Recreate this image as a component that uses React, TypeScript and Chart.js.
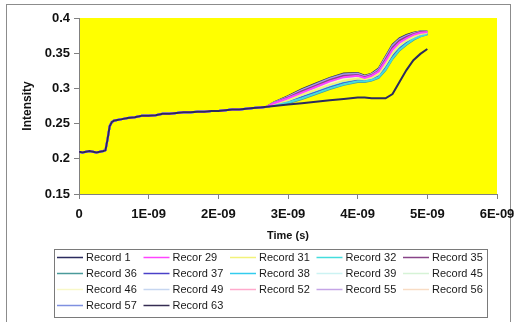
import React, { useEffect, useRef } from "react";
import { Chart, registerables } from "chart.js";

Chart.register(...registerables);

// Time in units of 1E-09 s
const baseTimes = [0, 0.05, 0.1, 0.15, 0.2, 0.25, 0.3, 0.35, 0.38, 0.41, 0.44, 0.47, 0.5, 0.55, 0.6, 0.7, 0.8, 0.9, 1.0, 1.1, 1.2, 1.3, 1.4, 1.5, 1.6, 1.7, 1.8, 1.9, 2.0, 2.1, 2.2, 2.3, 2.4, 2.5, 2.6, 2.7];
const baseIntensity = [0.210, 0.209, 0.210, 0.211, 0.210, 0.209, 0.210, 0.211, 0.212, 0.228, 0.246, 0.252, 0.254, 0.255, 0.256, 0.258, 0.259, 0.261, 0.261, 0.262, 0.264, 0.264, 0.265, 0.266, 0.266, 0.267, 0.267, 0.268, 0.268, 0.269, 0.270, 0.270, 0.271, 0.272, 0.273, 0.274];
const tailTimes = [2.8, 3.0, 3.2, 3.4, 3.6, 3.8, 4.0, 4.1, 4.2, 4.3, 4.4, 4.5, 4.6, 4.7, 4.8, 4.9, 5.0];

const record1 = [0.275, 0.277, 0.279, 0.281, 0.283, 0.285, 0.287, 0.287, 0.286, 0.286, 0.286, 0.292, 0.309, 0.326, 0.340, 0.349, 0.356];
const record29 = [0.279, 0.286, 0.294, 0.302, 0.310, 0.316, 0.318, 0.315, 0.318, 0.324, 0.339, 0.355, 0.365, 0.371, 0.376, 0.379, 0.380];
const record31 = [0.278, 0.283, 0.291, 0.298, 0.305, 0.311, 0.314, 0.313, 0.315, 0.320, 0.334, 0.350, 0.361, 0.368, 0.373, 0.377, 0.379];
const record32 = [0.276, 0.280, 0.286, 0.293, 0.300, 0.306, 0.310, 0.310, 0.312, 0.316, 0.327, 0.343, 0.355, 0.363, 0.370, 0.374, 0.377];
const record35 = [0.279, 0.287, 0.296, 0.304, 0.312, 0.318, 0.319, 0.316, 0.319, 0.325, 0.341, 0.358, 0.368, 0.373, 0.377, 0.380, 0.380];
const record36 = [0.276, 0.279, 0.285, 0.292, 0.299, 0.305, 0.309, 0.309, 0.311, 0.315, 0.326, 0.342, 0.354, 0.362, 0.369, 0.374, 0.377];
const record37 = [0.277, 0.280, 0.287, 0.294, 0.301, 0.307, 0.311, 0.310, 0.312, 0.317, 0.328, 0.345, 0.356, 0.364, 0.370, 0.375, 0.378];
const record38 = [0.277, 0.281, 0.288, 0.295, 0.302, 0.308, 0.312, 0.311, 0.313, 0.318, 0.330, 0.346, 0.357, 0.365, 0.371, 0.375, 0.378];
const record39 = [0.277, 0.282, 0.289, 0.296, 0.303, 0.309, 0.313, 0.311, 0.314, 0.319, 0.331, 0.347, 0.359, 0.366, 0.372, 0.376, 0.378];
const record45 = [0.277, 0.282, 0.290, 0.297, 0.304, 0.310, 0.313, 0.312, 0.314, 0.319, 0.332, 0.349, 0.360, 0.367, 0.372, 0.376, 0.378];
const record46 = [0.278, 0.284, 0.292, 0.299, 0.307, 0.313, 0.315, 0.313, 0.316, 0.321, 0.335, 0.351, 0.362, 0.369, 0.374, 0.377, 0.379];
const record49 = [0.278, 0.285, 0.293, 0.301, 0.309, 0.315, 0.317, 0.314, 0.317, 0.323, 0.337, 0.354, 0.364, 0.370, 0.375, 0.378, 0.379];
const record52 = [0.279, 0.286, 0.295, 0.303, 0.311, 0.317, 0.318, 0.316, 0.318, 0.324, 0.340, 0.357, 0.366, 0.372, 0.376, 0.379, 0.380];
const record55 = [0.279, 0.288, 0.297, 0.305, 0.313, 0.319, 0.320, 0.317, 0.320, 0.326, 0.343, 0.359, 0.369, 0.374, 0.378, 0.380, 0.380];
const record56 = [0.278, 0.284, 0.292, 0.300, 0.307, 0.313, 0.316, 0.314, 0.316, 0.322, 0.336, 0.353, 0.363, 0.369, 0.374, 0.378, 0.379];
const record57 = [0.280, 0.288, 0.298, 0.306, 0.314, 0.320, 0.321, 0.317, 0.320, 0.327, 0.344, 0.361, 0.370, 0.375, 0.378, 0.381, 0.381];
const record63 = [0.280, 0.289, 0.299, 0.307, 0.315, 0.321, 0.322, 0.318, 0.321, 0.328, 0.345, 0.362, 0.371, 0.376, 0.379, 0.381, 0.381];

const seriesNames = ["Record 1", "Recor 29", "Record 31", "Record 32", "Record 35", "Record 36", "Record 37", "Record 38", "Record 39", "Record 45", "Record 46", "Record 49", "Record 52", "Record 55", "Record 56", "Record 57", "Record 63"];
const seriesTails = [record1, record29, record31, record32, record35, record36, record37, record38, record39, record45, record46, record49, record52, record55, record56, record57, record63];
const seriesColors = ["#2b2b5e", "#ff44ff", "#f2f27a", "#44dddd", "#884488", "#4a9a9a", "#4a40c8", "#33ccee", "#ccf3f3", "#d6f3d6", "#f8f8c8", "#c6d6f0", "#ffaacc", "#c4a4e6", "#f8dcc4", "#7f90e0", "#352c52"];

const xTickLabels = ["0", "1E-09", "2E-09", "3E-09", "4E-09", "5E-09", "6E-09"];
const xTitle = "Time (s)";
const yTitle = "Intensity";

const W = 515;
const H = 322;

const decorPlugin = {
  id: "decor",
  beforeDraw(chart: any) {
    const { ctx, chartArea: a } = chart;
    ctx.save();
    ctx.fillStyle = "#ffffff";
    ctx.fillRect(0, 0, chart.width, chart.height);
    ctx.strokeStyle = "#8c8c8c";
    ctx.lineWidth = 1;
    ctx.strokeRect(6.5, 4.5, 504, 340);
    ctx.fillStyle = "#ffff00";
    ctx.fillRect(a.left, a.top, a.right - a.left, a.bottom - a.top);
    ctx.restore();
  },
  afterDraw(chart: any) {
    const { ctx } = chart;
    const boxL = 54, boxT = 249, boxW = 433, boxH = 68;
    ctx.save();
    ctx.strokeStyle = "#7a7a7a";
    ctx.lineWidth = 1;
    ctx.strokeRect(boxL + 0.5, boxT + 0.5, boxW, boxH);
    ctx.beginPath();
    ctx.rect(boxL + 1, boxT + 1, boxW - 1, boxH - 1);
    ctx.clip();
    ctx.font = "11px 'Liberation Sans', Arial, sans-serif";
    ctx.textBaseline = "middle";
    ctx.textAlign = "left";
    chart.data.datasets.forEach((ds: any, i: number) => {
      const col = i % 5;
      const row = Math.floor(i / 5);
      const x0 = boxL + 3 + col * 86.5;
      const y = boxT + 8 + row * 16;
      ctx.strokeStyle = ds.borderColor;
      ctx.lineWidth = 1.5;
      ctx.beginPath();
      ctx.moveTo(x0, y + 0.5);
      ctx.lineTo(x0 + 26, y + 0.5);
      ctx.stroke();
      ctx.fillStyle = "#1a1a1a";
      ctx.fillText(ds.label, x0 + 29, y + 1);
    });
    ctx.restore();
  },
};

export default function App() {
  const canvasRef = useRef<HTMLCanvasElement | null>(null);

  useEffect(() => {
    const canvas = canvasRef.current;
    if (!canvas) return;
    const datasets = seriesNames.map((name, i) => {
      const times = baseTimes.concat(tailTimes);
      const vals = baseIntensity.concat(seriesTails[i]);
      return {
        label: name,
        data: times.map((t, k) => ({ x: t, y: vals[k] })),
        borderColor: seriesColors[i],
        backgroundColor: seriesColors[i],
        borderWidth: 2,
        pointRadius: 0,
        tension: 0,
        fill: false,
      };
    });

    const chart = new Chart(canvas, {
      type: "line",
      data: { datasets },
      options: {
        animation: false,
        responsive: false,
        devicePixelRatio: 1,
        layout: { padding: { top: 18, right: 18, left: 0, bottom: 0 } },
        plugins: {
          legend: { display: false },
          tooltip: { enabled: false },
        },
        scales: {
          x: {
            type: "linear",
            min: 0,
            max: 6,
            afterFit: (s: any) => {
              s.height = 128;
              s.paddingLeft = 0;
              s.paddingRight = 0;
            },
            ticks: {
              stepSize: 1,
              padding: 8,
              color: "#111",
              font: { family: "'Liberation Sans', Arial, sans-serif", size: 13, weight: "bold" },
              maxRotation: 0,
              callback: (v: any) => xTickLabels[Math.round(Number(v))],
            },
            grid: { drawOnChartArea: false, drawTicks: true, tickLength: 5, color: "#808080" },
            border: { display: true, color: "#808080", width: 1 },
            title: {
              display: true,
              text: xTitle,
              color: "#111",
              font: { family: "'Liberation Sans', Arial, sans-serif", size: 11, weight: "bold" },
              padding: { top: 0, bottom: 79 },
            },
          },
          y: {
            type: "linear",
            min: 0.15,
            max: 0.4,
            afterFit: (s: any) => {
              s.width = 79;
              s.paddingTop = 0;
              s.paddingBottom = 0;
            },
            ticks: {
              stepSize: 0.05,
              padding: 4,
              color: "#111",
              font: { family: "'Liberation Sans', Arial, sans-serif", size: 13, weight: "bold" },
              callback: (v: any) => String(+Number(v).toFixed(2)),
            },
            grid: { drawOnChartArea: false, drawTicks: true, tickLength: 5, color: "#808080" },
            border: { display: true, color: "#808080", width: 1 },
            title: {
              display: true,
              text: yTitle,
              color: "#111",
              font: { family: "'Liberation Sans', Arial, sans-serif", size: 12, weight: "bold" },
              padding: { top: 20, bottom: 0 },
            },
          },
        },
      },
      plugins: [decorPlugin],
    });
    return () => chart.destroy();
  }, []);

  return (
    <div style={{ position: "fixed", left: 0, top: 0, width: W, height: H, background: "#fff" }}>
      <canvas ref={canvasRef} width={W} height={H} style={{ width: W, height: H, display: "block" }} />
    </div>
  );
}
